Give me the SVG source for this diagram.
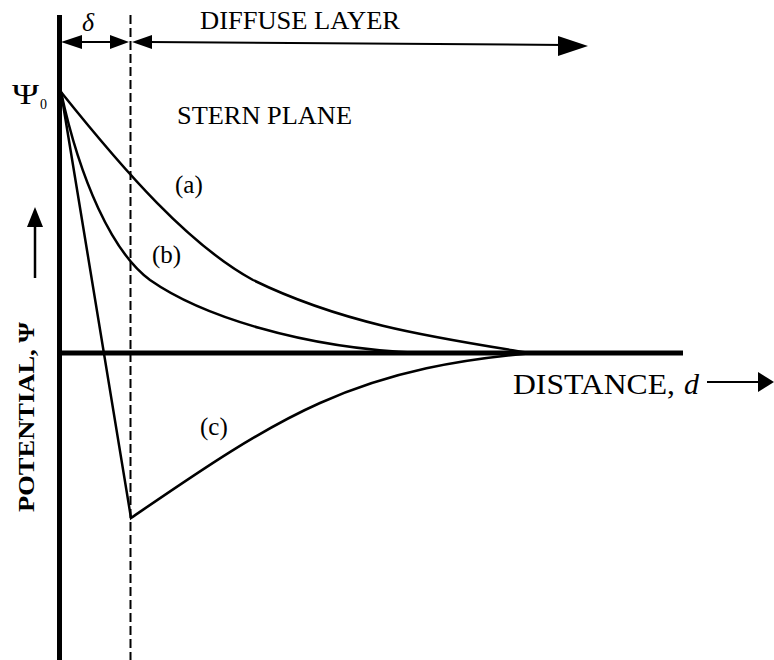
<svg xmlns="http://www.w3.org/2000/svg" width="774" height="660" viewBox="0 0 774 660">
<style>
.t{font-family:"Liberation Serif","Times New Roman",serif;fill:#000}
.ax{stroke:#000;stroke-width:5;fill:none}
.cv{stroke:#000;stroke-width:2.5;fill:none;stroke-linejoin:miter}
.ln{stroke:#000;stroke-width:2;fill:none}
.dash{stroke:#000;stroke-width:2;stroke-dasharray:9 4;fill:none}
</style>
<rect width="774" height="660" fill="#fff"/>
<g id="axes">
<line class="ax" x1="59.5" y1="15" x2="59.5" y2="660"/>
<line class="ax" x1="59" y1="353" x2="683" y2="353"/>
<line class="dash" x1="130.5" y1="15" x2="130.5" y2="660"/>
</g>
<g id="connectors">
<line class="ln" x1="75" y1="42" x2="115" y2="42"/>
<polygon points="61,42 82,35 82,49"/>
<polygon points="129,42 110,35 110,49"/>
<line class="ln" x1="148" y1="42" x2="565" y2="45"/>
<polygon points="132,42 152,35 152,49"/>
<polygon points="588,46 558,36 558,56"/>
<line class="ln" x1="35" y1="222" x2="35" y2="278" style="stroke-width:2.5"/>
<polygon points="35,207 27,227 43,227"/>
<line class="ln" x1="707" y1="382" x2="765" y2="382"/>
<polygon points="774,382 758,372 758,392"/>
</g>
<g id="curve-a">
<path class="cv" d="M61,92 C125,172 189,245 253,280 C345,325 438,338 530,353"/>
</g>
<g id="curve-b">
<path class="cv" d="M61,92 C80,180 112,252 150,280 C200,315 300,348 420,353"/>
</g>
<g id="curve-c">
<path class="cv" d="M61,92 L131,518 C194,475 257,431 320,403 C391,371 462,359 533,353"/>
</g>
<g id="labels">
<text class="t" x="82" y="31" font-size="26" font-style="italic">δ</text>
<text class="t" x="200" y="29" font-size="26" textLength="200" lengthAdjust="spacingAndGlyphs">DIFFUSE LAYER</text>
<text class="t" x="12" y="104" font-size="30" textLength="27" lengthAdjust="spacingAndGlyphs">Ψ</text>
<text class="t" x="40" y="109" font-size="14">0</text>
<text class="t" x="177" y="124" font-size="26" textLength="175" lengthAdjust="spacingAndGlyphs">STERN PLANE</text>
<text class="t" x="175" y="193" font-size="25">(a)</text>
<text class="t" x="152" y="263" font-size="25">(b)</text>
<text class="t" x="200" y="435" font-size="25">(c)</text>
<text class="t" x="513" y="394" font-size="30" textLength="162" lengthAdjust="spacingAndGlyphs">DISTANCE,</text>
<text class="t" x="684" y="394" font-size="30" font-style="italic">d</text>
<text class="t" transform="translate(34,512) rotate(-90)" x="0" y="0" font-size="24" font-weight="bold" textLength="190" lengthAdjust="spacingAndGlyphs">POTENTIAL, Ψ</text>
</g>
</svg>
